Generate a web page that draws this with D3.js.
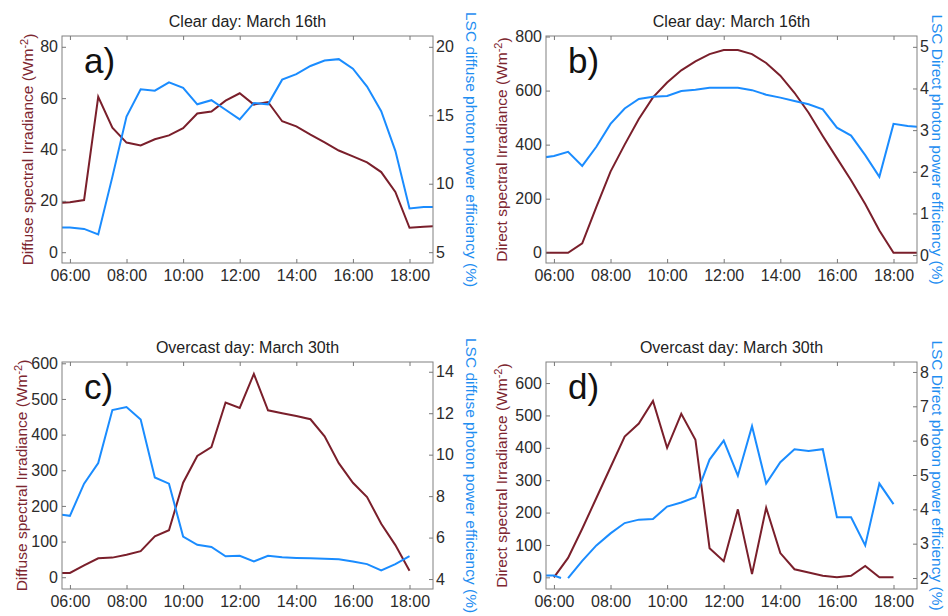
<!DOCTYPE html>
<html>
<head>
<meta charset="utf-8">
<script src="https://cdn.jsdelivr.net/npm/d3@7"></script>
<style>
body { margin: 0; background: #fff; }
svg { display: block; font-family: "Liberation Sans", Arial, sans-serif; }
.axis .domain { display: none; }
.axis line { stroke: #777; }
.axis text { fill: #2b2b2b; font-size: 16px; }
.frame { fill: none; stroke: #808080; }
.title { font-size: 16px; fill: #222; }
.letter { font-size: 35px; fill: #111; }
.ylab-left { font-size: 15.5px; fill: #7d2630; }
.ylab-right { font-size: 15.5px; fill: #1f8ef1; }
</style>
</head>
<body>
<svg id="chart" width="948" height="616"></svg>
<script>
// half-hourly samples, clear day (lines run past the axes and get clipped)
const timesClear = ["05:30","06:00","06:30","07:00","07:30","08:00","08:30","09:00","09:30","10:00",
  "10:30","11:00","11:30","12:00","12:30","13:00","13:30","14:00","14:30","15:00",
  "15:30","16:00","16:30","17:00","17:30","18:00","18:30","19:00"];

const clearDiffuse = [19.0, 19.5, 20.3, 60.5, 48.5, 42.7, 41.6, 44.0, 45.5, 48.3,
  54.0, 54.8, 59.0, 61.9, 57.5, 58.5, 51.0, 49.0, 45.8, 42.8,
  39.6, 37.3, 35.0, 31.2, 23.5, 9.5, 9.9, 10.2];
const clearDiffuseEff = [6.8, 6.8, 6.7, 6.3, 10.5, 14.9, 16.9, 16.8, 17.4, 17.0,
  15.8, 16.1, 15.4, 14.7, 15.9, 15.8, 17.6, 18.0, 18.6, 19.0,
  19.1, 18.4, 17.1, 15.3, 12.4, 8.2, 8.3, 8.3];

const clearDirect = [0, 0, 0, 35, 170, 300, 400, 495, 575, 630,
  675, 708, 735, 750, 750, 735, 702, 655, 592, 518,
  432, 350, 268, 180, 82, 0, 0, 0];
const clearDirectEff = [2.33, 2.38, 2.48, 2.14, 2.6, 3.15, 3.52, 3.75, 3.8, 3.82,
  3.94, 3.97, 4.02, 4.02, 4.02, 3.96, 3.85, 3.78, 3.7, 3.62,
  3.5, 3.06, 2.87, 2.4, 1.88, 3.15, 3.1, 3.07];

// overcast day
const timesOvercast = ["05:30","06:00","06:30","07:00","07:30","08:00","08:30","09:00","09:30","10:00",
  "10:30","11:00","11:30","12:00","12:30","13:00","13:30","14:00","14:30","15:00",
  "15:30","16:00","16:30","17:00","17:30","18:00"];

const overcastDiffuse = [12, 12, 33, 53, 55, 63, 73, 115, 132, 265,
  340, 365, 490, 475, 570, 468, 460, 452, 443, 395,
  320, 265, 225, 150, 90, 18];
const overcastDiffuseEff = [7.15, 7.05, 8.6, 9.6, 12.15, 12.3, 11.7, 8.9, 8.6, 6.05,
  5.65, 5.55, 5.1, 5.12, 4.85, 5.12, 5.05, 5.02, 5.0, 4.98,
  4.95, 4.85, 4.72, 4.42, 4.72, 5.1];

const timesOvercastDirect = ["06:00","06:30","07:00","07:30","08:00","08:30","09:00","09:30","10:00",
  "10:30","11:00","11:30","12:00","12:30","13:00","13:30","14:00","14:30","15:00",
  "15:30","16:00","16:30","17:00","17:30","18:00"];
const overcastDirect = [0, 60, 150, 245, 340, 435, 475, 545, 400,
  505, 425, 90, 50, 210, 10, 215, 75, 25, 15,
  5, 0, 5, 35, 0, 0];

// the efficiency record has a missing sample just after 06:15
const timesOvercastDirectEff = ["05:30","06:00","06:15","06:20","06:30","07:00","07:30","08:00","08:30","09:00","09:30","10:00",
  "10:30","11:00","11:30","12:00","12:30","13:00","13:30","14:00","14:30","15:00",
  "15:30","16:00","16:30","17:00","17:30","18:00"];
const overcastDirectEff = [2.07, 2.07, 2.0, null, 2.0, 2.5, 2.95, 3.3, 3.6, 3.7, 3.72, 4.08,
  4.2, 4.35, 5.45, 6.0, 4.98, 6.42, 4.75, 5.37, 5.75, 5.7,
  5.75, 3.77, 3.77, 2.95, 4.75, 4.15];

const hourTicks = [6, 8, 10, 12, 14, 16, 18];

const titleClear = "Clear day: March 16th";
const titleOvercast = "Overcast day: March 30th";

const RED = "#7a1f2b";
const BLUE = "#1a8cff";

const hour = s => { const [h, m] = s.split(":"); return +h + m / 60; };
const zip = (times, vals) => times.map((t, i) => ({ t: hour(t), v: vals[i] }));

const panels = [
  { key: "a)", title: titleClear, left: 62, top: 36,
    red: zip(timesClear, clearDiffuse), blue: zip(timesClear, clearDiffuseEff),
    yL: [-4.2, 84.2], yR: [4.21, 20.79], ticksL: [0, 20, 40, 60, 80], ticksR: [5, 10, 15, 20],
    labL: "Diffuse spectral Irradiance (Wm", labR: "LSC diffuse photon power efficiency (%)", labLx: 28, labRx: 471 },
  { key: "b)", title: titleClear, left: 546, top: 36,
    red: zip(timesClear, clearDirect), blue: zip(timesClear, clearDirectEff),
    yL: [-38, 802], yR: [-0.19, 5.26], ticksL: [0, 200, 400, 600, 800], ticksR: [0, 1, 2, 3, 4, 5],
    labL: "Direct spectral Irradiance (Wm", labR: "LSC Direct photon power efficiency (%)", labLx: 502, labRx: 937 },
  { key: "c)", title: titleOvercast, left: 62, top: 362,
    red: zip(timesOvercast, overcastDiffuse), blue: zip(timesOvercast, overcastDiffuseEff),
    yL: [-33, 603.6], yR: [3.52, 14.47], ticksL: [0, 100, 200, 300, 400, 500, 600], ticksR: [4, 6, 8, 10, 12, 14],
    labL: "Diffuse spectral Irradiance (Wm", labR: "LSC diffuse photon power efficiency (%)", labLx: 22, labRx: 471 },
  { key: "d)", title: titleOvercast, left: 546, top: 362,
    red: zip(timesOvercastDirect, overcastDirect), blue: zip(timesOvercastDirectEff, overcastDirectEff),
    yL: [-36, 665], yR: [1.68, 8.29], ticksL: [0, 100, 200, 300, 400, 500, 600], ticksR: [2, 3, 4, 5, 6, 7, 8],
    labL: "Direct spectral Irradiance (Wm", labR: "LSC Direct photon power efficiency (%)", labLx: 502, labRx: 937 }
];

const boxW = 371, boxH = 227;
const svg = d3.select("#chart");
const fmtHour = h => String(h).padStart(2, "0") + ":00";
const fmtNum = d3.format("d");

panels.forEach((p, i) => {
  const g = svg.append("g");
  const x = d3.scaleLinear().domain([5.72, 18.83]).range([p.left, p.left + boxW]);
  const yL = d3.scaleLinear().domain(p.yL).range([p.top + boxH, p.top]);
  const yR = d3.scaleLinear().domain(p.yR).range([p.top + boxH, p.top]);

  const clipId = "clip" + i;
  svg.append("clipPath").attr("id", clipId)
    .append("rect").attr("x", p.left).attr("y", p.top).attr("width", boxW).attr("height", boxH);

  const lineL = d3.line().x(d => x(d.t)).y(d => yL(d.v));
  const lineR = d3.line().defined(d => d.v != null).x(d => x(d.t)).y(d => yR(d.v));

  const plot = g.append("g").attr("clip-path", `url(#${clipId})`);
  plot.append("path").datum(p.red)
    .attr("d", lineL).attr("fill", "none").attr("stroke", RED).attr("stroke-width", 2);
  plot.append("path").datum(p.blue)
    .attr("d", lineR).attr("fill", "none").attr("stroke", BLUE).attr("stroke-width", 2);

  g.append("rect").attr("class", "frame")
    .attr("x", p.left).attr("y", p.top).attr("width", boxW).attr("height", boxH);

  // time axis, ticks pointing inward on both edges
  g.append("g").attr("class", "axis")
    .attr("transform", `translate(0,${p.top + boxH})`)
    .call(d3.axisBottom(x).tickValues(hourTicks).tickFormat(fmtHour).tickSize(-4).tickPadding(7));
  g.append("g").attr("class", "axis")
    .attr("transform", `translate(0,${p.top})`)
    .call(d3.axisTop(x).tickValues(hourTicks).tickFormat("").tickSize(-4));

  g.append("g").attr("class", "axis")
    .attr("transform", `translate(${p.left},0)`)
    .call(d3.axisLeft(yL).tickValues(p.ticksL).tickFormat(fmtNum).tickSize(-4).tickPadding(4));
  g.append("g").attr("class", "axis")
    .attr("transform", `translate(${p.left + boxW},0)`)
    .call(d3.axisRight(yR).tickValues(p.ticksR).tickFormat(fmtNum).tickSize(-4).tickPadding(3));

  g.append("text").attr("class", "title")
    .attr("x", p.left + boxW / 2).attr("y", p.top - 9)
    .attr("text-anchor", "middle").text(p.title);

  g.append("text").attr("class", "letter")
    .attr("x", p.left + 22).attr("y", p.top + 37).text(p.key);

  const midY = p.top + boxH / 2;
  const tl = g.append("text").attr("class", "ylab-left")
    .attr("transform", `translate(${p.labLx},${midY}) rotate(-90)`)
    .attr("text-anchor", "middle").attr("dy", "0.35em");
  tl.append("tspan").text(p.labL);
  tl.append("tspan").attr("dy", "-0.45em").attr("font-size", "11px").text("-2");
  tl.append("tspan").attr("dy", "0.45em").text(")");

  g.append("text").attr("class", "ylab-right")
    .attr("transform", `translate(${p.labRx},${midY}) rotate(90)`)
    .attr("text-anchor", "middle").attr("dy", "0.35em").text(p.labR);
});
</script>
</body>
</html>
